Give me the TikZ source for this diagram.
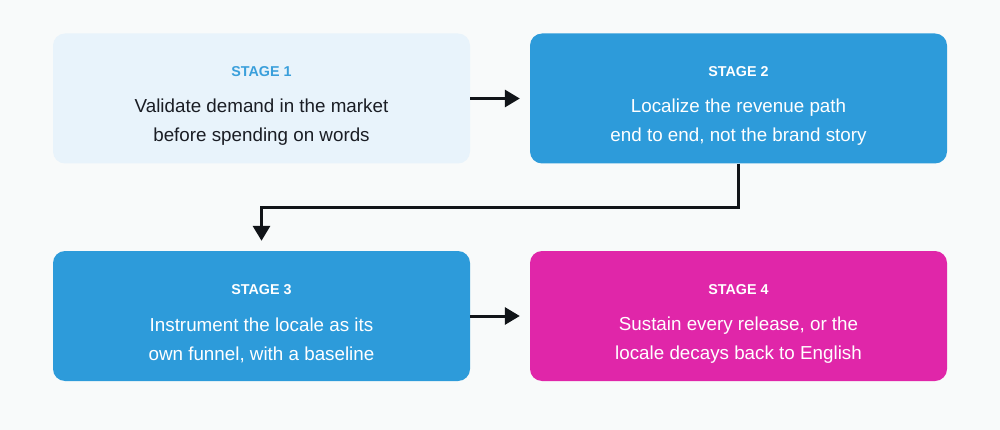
\documentclass[tikz,border=0pt]{standalone}
\usepackage{fontspec}
\setmainfont{Liberation Sans}
\usetikzlibrary{arrows.meta}
\definecolor{bgc}{HTML}{F8FAFA}
\definecolor{paleblue}{HTML}{E8F3FB}
\definecolor{stageblue}{HTML}{3A9FDB}
\definecolor{boxblue}{HTML}{2D9BDA}
\definecolor{boxpink}{HTML}{E026A9}
\definecolor{darktext}{HTML}{1A1D24}
\definecolor{arrowc}{HTML}{111418}
\tikzset{
  stagebox/.style={rectangle, rounded corners=12pt, minimum width=417pt, minimum height=130pt, inner sep=0pt, draw=none},
  stagelabel/.style={font=\fontsize{14.3}{16}\selectfont\bfseries},
  stagetext/.style={font=\fontsize{18.8}{29}\selectfont, align=center},
  flow/.style={draw=arrowc, line width=3pt, -{Triangle[length=15pt,width=17pt]}},
}
\begin{document}
\begin{tikzpicture}[x=1pt,y=-1pt]
\useasboundingbox[fill=bgc] (0,0) rectangle (1000,430);
\node[stagebox, fill=paleblue] (s1) at (261.5,98.5) {};
\node[stagebox, fill=boxblue] (s2) at (738.5,98.5) {};
\node[stagebox, fill=boxblue] (s3) at (261.5,316) {};
\node[stagebox, fill=boxpink] (s4) at (738.5,316) {};
\node[stagelabel, text=stageblue] (l1) at ([yshift=26.5pt]s1.center) {STAGE 1};
\node[stagelabel, text=white] (l2) at ([yshift=26.5pt]s2.center) {STAGE 2};
\node[stagelabel, text=white] (l3) at ([yshift=26.5pt]s3.center) {STAGE 3};
\node[stagelabel, text=white] (l4) at ([yshift=26.5pt]s4.center) {STAGE 4};
\node[stagetext, text=darktext] (t1) at ([yshift=-24pt]s1.center) {Validate demand in the market\\before spending on words};
\node[stagetext, text=white] (t2) at ([yshift=-24pt]s2.center) {Localize the revenue path\\end to end, not the brand story};
\node[stagetext, text=white] (t3) at ([yshift=-24pt]s3.center) {Instrument the locale as its\\own funnel, with a baseline};
\node[stagetext, text=white] (t4) at ([yshift=-24pt]s4.center) {Sustain every release, or the\\locale decays back to English};
\coordinate (e1) at ([xshift=-10pt]s2.west);
\coordinate (e3) at ([xshift=-10pt]s4.west);
\draw[flow] (s1.east) -- (e1);
\draw[flow] (s3.east) -- (e3);
\coordinate (b2) at (s2.south);
\coordinate (d3) at ([yshift=10pt]s3.north);
\draw[flow] (b2) -- ++(0,44) -| (d3);
\end{tikzpicture}
\end{document}
